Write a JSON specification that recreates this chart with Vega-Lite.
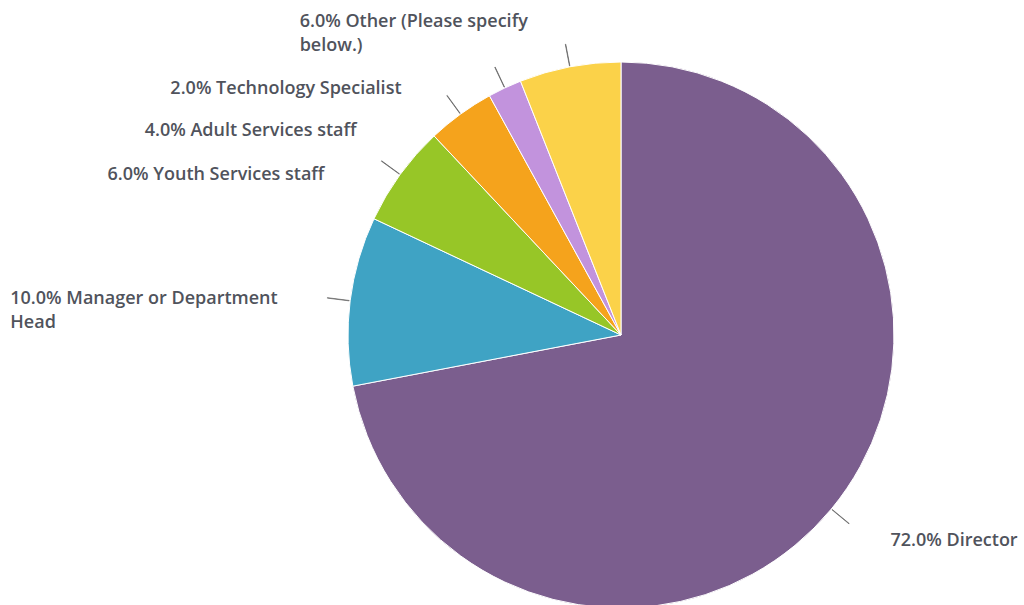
{
  "$schema": "https://vega.github.io/schema/vega-lite/v6.json",
  "width": 806,
  "height": 540,
  "autosize": {"type": "none"},
  "padding": {"left": 218, "top": 65, "right": 0, "bottom": 0},
  "background": "white",
  "config": {"view": {"stroke": null}},
  "data": {
    "values": [
      {"category": "Director", "value": 72},
      {"category": "Manager or Department\nHead", "value": 10},
      {"category": "Youth Services staff", "value": 6},
      {"category": "Adult Services staff", "value": 4},
      {"category": "Technology Specialist", "value": 2},
      {"category": "Other (Please specify\nbelow.)", "value": 6}
    ]
  },
  "transform": [
    {"window": [{"op": "row_number", "as": "i"}]},
    {"stack": "value", "groupby": [], "sort": [{"field": "i"}], "as": ["v0", "v1"]},
    {"calculate": "(datum.v0 + datum.v1) / 2", "as": "mid"},
    {"calculate": "datum.mid - 0.012", "as": "t0"},
    {"calculate": "datum.mid + 0.012", "as": "t1"},
    {"calculate": "format(datum.value, '.1f') + '% ' + datum.category", "as": "label"}
  ],
  "layer": [
    {
      "mark": {"type": "arc", "outerRadius": 273, "stroke": "white", "strokeWidth": 1},
      "encoding": {
        "theta": {"field": "v0", "type": "quantitative", "stack": null, "scale": {"domain": [0, 100]}},
        "theta2": {"field": "v1"},
        "color": {
          "field": "category",
          "type": "nominal",
          "legend": null,
          "scale": {
            "domain": ["Director", "Manager or Department\nHead", "Youth Services staff", "Adult Services staff", "Technology Specialist", "Other (Please specify\nbelow.)"],
            "range": ["#7b5e8e", "#3fa3c4", "#97c627", "#f5a31c", "#c293dd", "#fbd249"]
          }
        }
      }
    },
    {
      "mark": {"type": "arc", "innerRadius": 274, "outerRadius": 296, "fill": "#666666", "stroke": "#666666", "strokeWidth": 0.7},
      "encoding": {
        "theta": {"field": "t0", "type": "quantitative", "stack": null},
        "theta2": {"field": "t1"}
      }
    },
    {
      "transform": [{"filter": "datum.i == 1"}],
      "mark": {"type": "text", "radius": 290, "align": "left", "baseline": "middle", "dx": 46, "dy": 21, "font": "Open Sans", "fontSize": 18, "fontWeight": 600, "fill": "#50535c", "lineBreak": "\n", "lineHeight": 24},
      "encoding": {"theta": {"field": "mid", "type": "quantitative", "stack": null}, "text": {"field": "label"}}
    },
    {
      "transform": [{"filter": "datum.i == 2"}],
      "mark": {"type": "text", "radius": 290, "align": "left", "baseline": "middle", "dx": -323, "dy": 0, "font": "Open Sans", "fontSize": 18, "fontWeight": 600, "fill": "#50535c", "lineBreak": "\n", "lineHeight": 24},
      "encoding": {"theta": {"field": "mid", "type": "quantitative", "stack": null}, "text": {"field": "label"}}
    },
    {
      "transform": [{"filter": "datum.i == 3"}],
      "mark": {"type": "text", "radius": 290, "align": "right", "baseline": "middle", "dx": -62, "dy": 10, "font": "Open Sans", "fontSize": 18, "fontWeight": 600, "fill": "#50535c", "lineBreak": "\n", "lineHeight": 24},
      "encoding": {"theta": {"field": "mid", "type": "quantitative", "stack": null}, "text": {"field": "label"}}
    },
    {
      "transform": [{"filter": "datum.i == 4"}],
      "mark": {"type": "text", "radius": 290, "align": "right", "baseline": "middle", "dx": -94, "dy": 31, "font": "Open Sans", "fontSize": 18, "fontWeight": 600, "fill": "#50535c", "lineBreak": "\n", "lineHeight": 24},
      "encoding": {"theta": {"field": "mid", "type": "quantitative", "stack": null}, "text": {"field": "label"}}
    },
    {
      "transform": [{"filter": "datum.i == 5"}],
      "mark": {"type": "text", "radius": 290, "align": "right", "baseline": "middle", "dx": -96, "dy": 16, "font": "Open Sans", "fontSize": 18, "fontWeight": 600, "fill": "#50535c", "lineBreak": "\n", "lineHeight": 24},
      "encoding": {"theta": {"field": "mid", "type": "quantitative", "stack": null}, "text": {"field": "label"}}
    },
    {
      "transform": [{"filter": "datum.i == 6"}],
      "mark": {"type": "text", "radius": 290, "align": "left", "baseline": "middle", "dx": -267, "dy": -28, "font": "Open Sans", "fontSize": 18, "fontWeight": 600, "fill": "#50535c", "lineBreak": "\n", "lineHeight": 24},
      "encoding": {"theta": {"field": "mid", "type": "quantitative", "stack": null}, "text": {"field": "label"}}
    }
  ]
}
